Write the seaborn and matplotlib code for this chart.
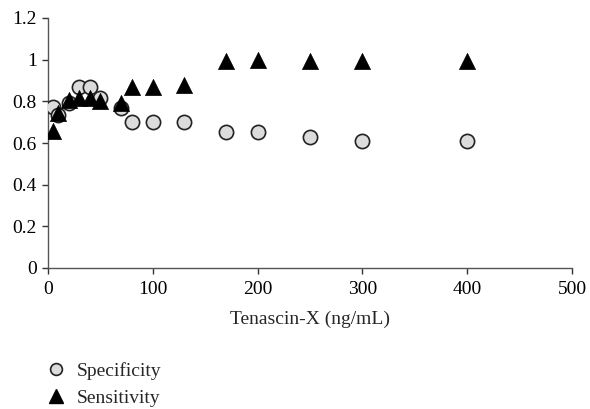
import matplotlib
matplotlib.use("Agg")
import matplotlib.pyplot as plt
import seaborn as sns
import pandas as pd
from matplotlib.lines import Line2D

spec_x = [5, 10, 20, 30, 40, 50, 70, 80, 100, 130, 170, 200, 250, 300, 400]
spec_y = [0.774, 0.734, 0.793, 0.870, 0.870, 0.815, 0.767, 0.702, 0.702, 0.702, 0.654, 0.654, 0.630, 0.611, 0.611]
sens_x = [5, 10, 20, 30, 40, 50, 70, 80, 100, 130, 170, 200, 250, 300, 400]
sens_y = [0.659, 0.743, 0.806, 0.815, 0.815, 0.800, 0.790, 0.867, 0.867, 0.878, 0.995, 1.000, 0.995, 0.995, 0.995]

xticks = [0, 100, 200, 300, 400, 500]
yticks = [0, 0.2, 0.4, 0.6, 0.8, 1.0, 1.2]
ytick_labels = ["0", "0.2", "0.4", "0.6", "0.8", "1", "1.2"]

sns.set_style("white")
plt.rcParams['font.family'] = ['Liberation Serif', 'DejaVu Serif']
plt.rcParams['font.size'] = 14

fig = plt.figure(figsize=(5.9, 4.09), dpi=100)
ax = fig.add_axes([48/590, 1-268/409, (572-48)/590, (268-18)/409])

spec_df = pd.DataFrame({"x": spec_x, "y": spec_y})
sens_df = pd.DataFrame({"x": sens_x, "y": sens_y})

sns.scatterplot(data=spec_df, x="x", y="y", ax=ax, marker="o", s=105,
                color="#dcdcdc", edgecolor="#222222", linewidth=1.2, zorder=3)
sns.scatterplot(data=sens_df, x="x", y="y", ax=ax, marker="^", s=135,
                color="black", edgecolor="black", linewidth=0.5, zorder=4)

ax.set_xlim(0, 500)
ax.set_ylim(0, 1.2)
ax.set_xticks(xticks)
ax.set_xticklabels([str(t) for t in xticks])
ax.set_yticks(yticks)
ax.set_yticklabels(ytick_labels)
ax.set_xlabel("Tenascin-X (ng/mL)", fontsize=14, labelpad=9)
ax.set_ylabel("")

for s in ["top", "right"]:
    ax.spines[s].set_visible(False)
for s in ["left", "bottom"]:
    ax.spines[s].set_color("#555555")
    ax.spines[s].set_linewidth(1.0)
ax.tick_params(axis="both", direction="out", length=4, width=1.0, color="#333333",
               labelsize=14, colors="black")
ax.tick_params(axis="both", which="both", left=True, bottom=True, color="#333333")
ax.tick_params(axis="x", pad=5.5)
ax.tick_params(axis="y", pad=4)

handles = [
    Line2D([0], [0], marker="o", linestyle="", markersize=8.5, markerfacecolor="#dcdcdc",
           markeredgecolor="#222222", markeredgewidth=1.2, label="Specificity"),
    Line2D([0], [0], marker="^", linestyle="", markersize=9.5, markerfacecolor="black",
           markeredgecolor="black", label="Sensitivity"),
]
fig.legend(handles=handles, loc="upper left", bbox_to_anchor=(46/590, 1-362/409),
           frameon=False, fontsize=14, handletextpad=0.58, labelspacing=0.5,
           handlelength=1.0, borderaxespad=0, borderpad=0)

fig.savefig("out.png", dpi=100)
